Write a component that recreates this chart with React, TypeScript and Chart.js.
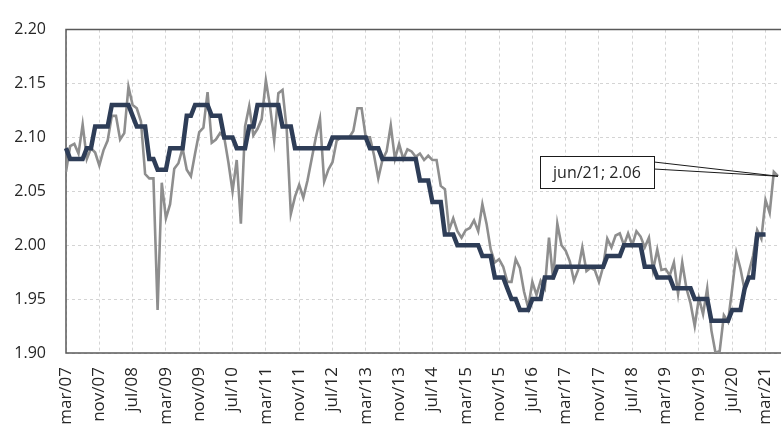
import React, { useEffect, useRef } from 'react';
import { Chart, registerables } from 'chart.js';

Chart.register(...registerables);

// ---- Data ----
const MONTHS = ['ene', 'feb', 'mar', 'abr', 'may', 'jun', 'jul', 'ago', 'sep', 'oct', 'nov', 'dic'];
const START_MONTH = 2; // mar
const START_YEAR = 7; // 2007
const N_POINTS = 172; // mar/07 .. jun/21
const LABEL_EVERY = 8;

const categories: string[] = Array.from({ length: N_POINTS }, (_, i) => {
  const m = START_MONTH + i;
  const yy = START_YEAR + Math.floor(m / 12);
  return `${MONTHS[m % 12]}/${String(yy).padStart(2, '0')}`;
});

// dark navy stepped series
const seriesDark: (number | null)[] = [
  2.09, 2.08, 2.08, 2.08, 2.08, 2.09, 2.09, 2.11,
  2.11, 2.11, 2.11, 2.13, 2.13, 2.13, 2.13, 2.13,
  2.12, 2.11, 2.11, 2.11, 2.08, 2.08, 2.07, 2.07,
  2.07, 2.09, 2.09, 2.09, 2.09, 2.12, 2.12, 2.13,
  2.13, 2.13, 2.13, 2.12, 2.12, 2.12, 2.10, 2.10,
  2.10, 2.09, 2.09, 2.09, 2.11, 2.11, 2.13, 2.13,
  2.13, 2.13, 2.13, 2.13, 2.11, 2.11, 2.11, 2.09,
  2.09, 2.09, 2.09, 2.09, 2.09, 2.09, 2.09, 2.09,
  2.10, 2.10, 2.10, 2.10, 2.10, 2.10, 2.10, 2.10,
  2.10, 2.09, 2.09, 2.09, 2.08, 2.08, 2.08, 2.08,
  2.08, 2.08, 2.08, 2.08, 2.08, 2.06, 2.06, 2.06,
  2.04, 2.04, 2.04, 2.01, 2.01, 2.01, 2.00, 2.00,
  2.00, 2.00, 2.00, 2.00, 1.99, 1.99, 1.99, 1.97,
  1.97, 1.97, 1.96, 1.95, 1.95, 1.94, 1.94, 1.94,
  1.95, 1.95, 1.95, 1.97, 1.97, 1.97, 1.98, 1.98,
  1.98, 1.98, 1.98, 1.98, 1.98, 1.98, 1.98, 1.98,
  1.98, 1.98, 1.99, 1.99, 1.99, 1.99, 2.00, 2.00,
  2.00, 2.00, 2.00, 1.98, 1.98, 1.98, 1.97, 1.97,
  1.97, 1.97, 1.96, 1.96, 1.96, 1.96, 1.96, 1.95,
  1.95, 1.95, 1.95, 1.93, 1.93, 1.93, 1.93, 1.93,
  1.94, 1.94, 1.94, 1.96, 1.97, 1.97, 2.01, 2.01,
  2.01, null, null, null,
];

// gray monthly series
const seriesGray: number[] = [
  2.068, 2.092, 2.094, 2.085, 2.112, 2.08, 2.09, 2.086,
  2.074, 2.088, 2.097, 2.12, 2.12, 2.098, 2.104, 2.147,
  2.13, 2.127, 2.115, 2.066, 2.062, 2.062, 1.94, 2.058,
  2.025, 2.038, 2.071, 2.076, 2.09, 2.07, 2.064, 2.085,
  2.105, 2.109, 2.142, 2.095, 2.098, 2.104, 2.10, 2.077,
  2.05, 2.079, 2.02, 2.11, 2.129, 2.102, 2.108, 2.117,
  2.153, 2.129, 2.097, 2.141, 2.144, 2.108, 2.029, 2.045,
  2.056, 2.044, 2.06, 2.08, 2.10, 2.117, 2.059, 2.07,
  2.077, 2.097, 2.10, 2.10, 2.10, 2.106, 2.127, 2.127,
  2.10, 2.10, 2.083, 2.062, 2.079, 2.087, 2.111, 2.08,
  2.094, 2.08, 2.089, 2.087, 2.082, 2.085, 2.079, 2.083,
  2.079, 2.079, 2.055, 2.052, 2.014, 2.025, 2.013, 2.007,
  2.014, 2.016, 2.023, 2.013, 2.038, 2.02, 1.996, 1.984,
  1.987, 1.98, 1.966, 1.966, 1.987, 1.979, 1.957, 1.942,
  1.966, 1.954, 1.967, 1.96, 2.007, 1.968, 2.02, 2.0,
  1.995, 1.985, 1.967, 1.977, 1.998, 1.976, 1.979, 1.977,
  1.966, 1.98, 2.006, 1.998, 2.009, 2.011, 2.0, 2.011,
  2.0, 2.013, 2.008, 1.998, 2.007, 1.977, 1.996, 1.977,
  1.978, 1.972, 1.984, 1.955, 1.984, 1.96, 1.946, 1.925,
  1.951, 1.936, 1.96, 1.921, 1.90, 1.902, 1.935, 1.929,
  1.96, 1.993, 1.978, 1.958, 1.975, 1.99, 2.014, 2.006,
  2.042, 2.03, 2.068, 2.064,
];

const Y_MIN = 1.9;
const Y_MAX = 2.2;
const Y_STEP = 0.05;
const CALLOUT_INDEX = 171;

// ---- Styles ----
const W = 781;
const H = 426;
const FONT = '"Open Sans", "DejaVu Sans", sans-serif';
const TEXT_COLOR = '#262626';
const GRID_COLOR = '#d4d4d4';
const FRAME_COLOR = '#595959';
const DARK_COLOR = '#2e3d57';
const GRAY_COLOR = '#8e8e8e';

const framePlugin = {
  id: 'frame',
  beforeDatasetsDraw(chart: any) {
    const { ctx, chartArea } = chart;
    const { left, top, bottom } = chartArea;
    ctx.save();
    ctx.strokeStyle = FRAME_COLOR;
    ctx.lineWidth = 1.5;
    ctx.beginPath();
    ctx.moveTo(chart.width, top);
    ctx.lineTo(left, top);
    ctx.lineTo(left, bottom);
    ctx.lineTo(chart.width, bottom);
    ctx.stroke();
    ctx.restore();
  },
};

const calloutPlugin = {
  id: 'callout',
  afterDatasetsDraw(chart: any) {
    const { ctx } = chart;
    const xs = chart.scales.x;
    const ys = chart.scales.y;
    const v = seriesGray[CALLOUT_INDEX];
    const px = xs.getPixelForValue(CALLOUT_INDEX);
    const py = ys.getPixelForValue(v);
    const text = `${categories[CALLOUT_INDEX]}; ${v.toFixed(2)}`;
    const bx = 540;
    const by = 156;
    const bw = 114;
    const bh = 32;
    ctx.save();
    ctx.strokeStyle = '#1a1a1a';
    ctx.lineWidth = 1;
    ctx.beginPath();
    ctx.moveTo(bx + bw, by + 6);
    ctx.lineTo(px, py);
    ctx.lineTo(bx + bw, by + 13);
    ctx.stroke();
    ctx.fillStyle = '#ffffff';
    ctx.fillRect(bx, by, bw, bh);
    ctx.strokeRect(bx + 0.5, by + 0.5, bw, bh);
    ctx.fillStyle = TEXT_COLOR;
    ctx.font = `16px ${FONT}`;
    ctx.textAlign = 'center';
    ctx.textBaseline = 'middle';
    ctx.fillText(text, bx + bw / 2, by + bh / 2 + 1);
    ctx.restore();
  },
};

export default function App() {
  const canvasRef = useRef<HTMLCanvasElement | null>(null);

  useEffect(() => {
    if (!canvasRef.current) return;
    const chart = new Chart(canvasRef.current, {
      type: 'line',
      data: {
        labels: categories,
        datasets: [
          {
            label: 'gray',
            data: seriesGray,
            borderColor: GRAY_COLOR,
            borderWidth: 2.6,
            pointRadius: 0,
            tension: 0,
            fill: false,
            order: 2,
          },
          {
            label: 'dark',
            data: seriesDark,
            borderColor: DARK_COLOR,
            borderWidth: 4.5,
            pointRadius: 0,
            tension: 0,
            fill: false,
            spanGaps: false,
            order: 1,
          },
        ],
      },
      options: {
        responsive: false,
        animation: false,
        events: [],
        layout: { padding: { left: 0, top: 21, right: 3, bottom: 0 } },
        plugins: {
          legend: { display: false },
          tooltip: { enabled: false },
        },
        scales: {
          x: {
            type: 'category',
            offset: false,
            grid: {
              drawTicks: false,
              lineWidth: 1,
              color: (ctx: any) => (ctx.index % LABEL_EVERY === 0 ? GRID_COLOR : 'rgba(0,0,0,0)'),
            },
            border: { display: false, dash: [3, 3] },
            ticks: {
              autoSkip: false,
              minRotation: 90,
              maxRotation: 90,
              padding: 14,
              color: TEXT_COLOR,
              font: { family: FONT, size: 17 },
              callback: (_v: any, idx: number) => (idx % LABEL_EVERY === 0 ? categories[idx] : ''),
            },
            afterFit: (scale: any) => {
              scale.height = H - 353;
              scale.paddingLeft = 0;
              scale.paddingRight = 0;
            },
          },
          y: {
            type: 'linear',
            min: Y_MIN,
            max: Y_MAX,
            grid: { drawTicks: false, color: GRID_COLOR, lineWidth: 1 },
            border: { display: false, dash: [3, 3] },
            ticks: {
              stepSize: Y_STEP,
              padding: 20,
              color: TEXT_COLOR,
              font: { family: FONT, size: 16 },
              callback: (v: any) => Number(v).toFixed(2),
            },
            afterFit: (scale: any) => {
              scale.width = 66;
            },
          },
        },
      },
      plugins: [framePlugin, calloutPlugin],
    } as any);
    return () => chart.destroy();
  }, []);

  return (
    <div style={{ position: 'absolute', left: 0, top: 0, width: W, height: H, background: '#fff' }}>
      <canvas ref={canvasRef} width={W} height={H} style={{ display: 'block', width: W, height: H }} />
    </div>
  );
}
